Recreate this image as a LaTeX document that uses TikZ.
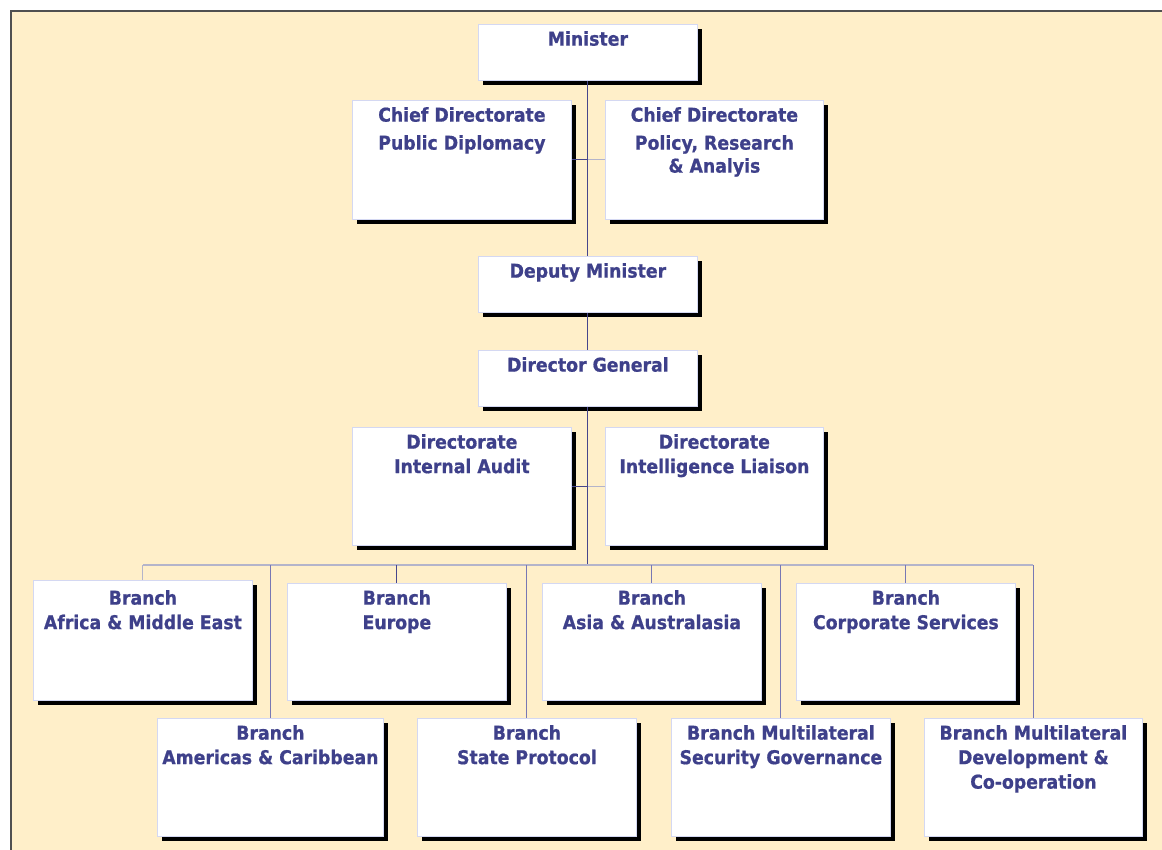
\documentclass[tikz,border=0pt]{standalone}
\usepackage{fontspec}
\setmainfont{DejaVu Sans}[FakeStretch=0.91, BoldFeatures={FakeBold=0.8}]
\usepackage{xcolor}
\usetikzlibrary{positioning,shadows}

\definecolor{cream}{RGB}{255,239,201}
\definecolor{framegray}{RGB}{80,80,80}
\definecolor{orgblue}{RGB}{62,64,138}
\definecolor{boxedge}{RGB}{212,216,242}
\definecolor{linkdark}{RGB}{70,70,140}
\definecolor{linkmid}{RGB}{120,120,180}
\definecolor{linklight}{RGB}{180,180,202}

\begin{document}
\begin{tikzpicture}[x=1pt, y=-1pt,
    unit/.style={rectangle, draw=boxedge, line width=0.8pt, fill=white, anchor=north west,
        inner sep=0pt, minimum width=219pt, minimum height=118pt,
        drop shadow={shadow xshift=4.5pt, shadow yshift=-4.5pt, fill=black, opacity=1}},
    topunit/.style={unit, minimum height=56pt},
    unittext/.style={font=\fontsize{19}{24.5}\selectfont\bfseries, text=orgblue,
        align=center, anchor=north, inner sep=0pt},
    link/.style={line width=1.1pt, linkdark},
    weaklink/.style={line width=1.1pt, linklight}
]
    % page and frame
    \useasboundingbox (0,0) rectangle (1162,849);
    \fill[white] (0,0) rectangle (1162,849);
    \draw[framegray, line width=2pt, fill=cream] (11,11) rectangle (1190,880);

    % top of the chart
    \node[topunit] (min) at (478,24) {};
    \node[unittext] (min-t) at ([yshift=-7pt]min.north) {Minister};
    \node[unit, minimum height=119pt] (cdpd) at (352,100) {};
    \node[unittext] (cdpd-t) at ([yshift=-7pt]cdpd.north) {Chief Directorate\\[3.5pt]Public Diplomacy};
    \node[unit, minimum width=218pt, minimum height=119pt] (cdpra) at (605,100) {};
    \node[unittext] (cdpra-t) at ([yshift=-7pt]cdpra.north) {Chief Directorate\\[3.5pt]Policy, Research\\[-1.5pt]\& Analyis};
    \node[topunit] (dmin) at (478,256) {};
    \node[unittext] (dmin-t) at ([yshift=-7pt]dmin.north) {Deputy Minister};
    \node[topunit] (dg) at (478,350) {};
    \node[unittext] (dg-t) at ([yshift=-7pt]dg.north) {Director General};
    \node[unit] (dia) at (352,427) {};
    \node[unittext] (dia-t) at ([yshift=-7pt]dia.north) {Directorate\\Internal Audit};
    \node[unit, minimum width=218pt] (dil) at (605,427) {};
    \node[unittext] (dil-t) at ([yshift=-7pt]dil.north) {Directorate\\Intelligence Liaison};

    % branches, upper row
    \node[unit, minimum height=120pt] (ame) at (33,580) {};
    \node[unittext] (ame-t) at ([yshift=-10pt]ame.north) {Branch\\Africa \& Middle East};
    \node[unit, minimum height=117pt] (eur) at (287,583) {};
    \node[unittext] (eur-t) at ([yshift=-7pt]eur.north) {Branch\\Europe};
    \node[unit, minimum height=117pt] (asa) at (542,583) {};
    \node[unittext] (asa-t) at ([yshift=-7pt]asa.north) {Branch\\Asia \& Australasia};
    \node[unit, minimum height=117pt] (cs) at (796,583) {};
    \node[unittext] (cs-t) at ([yshift=-7pt]cs.north) {Branch\\Corporate Services};

    % branches, lower row
    \node[unit, minimum width=226pt] (amc) at (157,718) {};
    \node[unittext] (amc-t) at ([yshift=-7pt]amc.north) {Branch\\Americas \& Caribbean};
    \node[unit] (sp) at (417,718) {};
    \node[unittext] (sp-t) at ([yshift=-7pt]sp.north) {Branch\\State Protocol};
    \node[unit] (msg) at (671,718) {};
    \node[unittext] (msg-t) at ([yshift=-7pt]msg.north) {Branch Multilateral\\Security Governance};
    \node[unit, minimum width=218pt] (mdc) at (924,718) {};
    \node[unittext] (mdc-t) at ([yshift=-7pt]mdc.north) {Branch Multilateral\\Development \&\\Co-operation};

    % connectors
    \coordinate (bar) at (587,565);
    \draw[link] (min.south) -- (dmin.north);
    \draw[link] (dmin.south) -- (dg.north);
    \draw[link] (dg.south) -- (dg.south |- bar);
    \draw[link] (cdpd.east) -- (cdpd.east -| min.south);
    \draw[weaklink] (cdpra.west) -- (cdpra.west -| min.south);
    \draw[link] (dia.east) -- (dia.east -| dg.south);
    \draw[weaklink] (dil.west) -- (dil.west -| dg.south);
    \draw[weaklink] (ame.north |- bar) -- (mdc.north |- bar);
    \foreach \b/\c in {ame/linklight, eur/linkdark, asa/linkmid, cs/linkmid}
        \draw[line width=1.1pt, \c] (\b.north |- bar) -- (\b.north);
    \foreach \b in {amc, sp, msg, mdc}
        \draw[link, linkmid] (\b.north |- bar) -- (\b.north);
\end{tikzpicture}
\end{document}
